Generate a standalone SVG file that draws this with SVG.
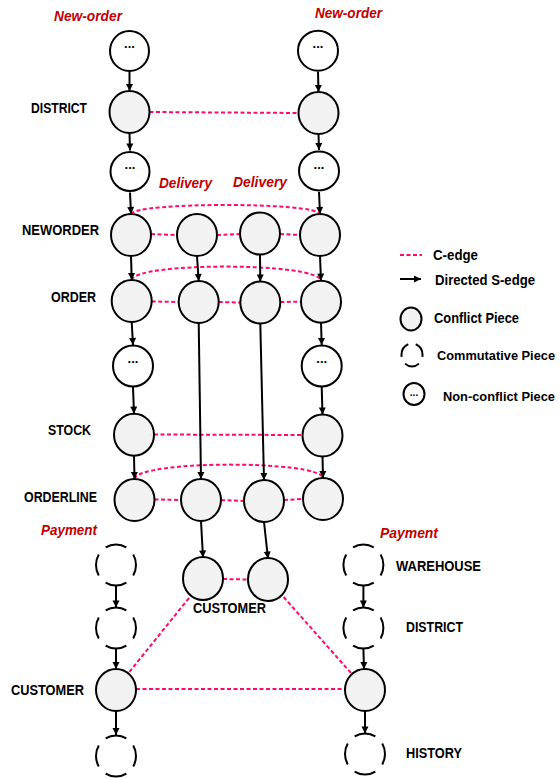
<svg xmlns="http://www.w3.org/2000/svg" width="560" height="779" viewBox="0 0 560 779">
  <style>
    .conf { fill: #f2f2f2; stroke: #000; stroke-width: 2; }
    .nonc { fill: #fff; stroke: #000; stroke-width: 2; }
    .comm { fill: none; stroke: #000; stroke-width: 2; stroke-dasharray: 62 28; stroke-dashoffset: 31; }
    .comm3 { fill: none; stroke: #000; stroke-width: 2; stroke-dasharray: 80 40; stroke-dashoffset: 70; }
    .dots { font-family: "Liberation Sans", Arial, sans-serif; font-weight: bold; font-size: 13px; text-anchor: middle; fill: #000; }
    .lbl { font-family: "Liberation Sans", Arial, sans-serif; font-weight: bold; font-size: 14px; fill: #000; dominant-baseline: central; }
    .lbl-sm { font-size: 13px; }
    .txn { font-family: "Liberation Sans", Arial, sans-serif; font-weight: bold; font-style: italic; font-size: 14px; fill: #c00000; dominant-baseline: central; }
    .cedge { fill: none; stroke: #ff0a6c; stroke-width: 2; stroke-dasharray: 4 2.5; }
    .sedge { fill: none; stroke: #000; stroke-width: 2; marker-end: url(#arrow); }
  </style>
  <defs>
    <marker id="arrow" markerUnits="userSpaceOnUse" markerWidth="10" markerHeight="10" viewBox="0 0 10 10" refX="9" refY="5" orient="auto">
      <path d="M2,1.5 L9,5 L2,8.5 Z" fill="#000"/>
    </marker>
  </defs>

  <!-- transaction labels -->
  <g id="txn-labels">
    <text class="txn" x="54" y="16" textLength="68" lengthAdjust="spacingAndGlyphs">New-order</text>
    <text class="txn" x="315" y="13" textLength="67" lengthAdjust="spacingAndGlyphs">New-order</text>
    <text class="txn" x="159" y="183" textLength="53" lengthAdjust="spacingAndGlyphs">Delivery</text>
    <text class="txn" x="233" y="182" textLength="54" lengthAdjust="spacingAndGlyphs">Delivery</text>
    <text class="txn" x="41" y="530" textLength="56" lengthAdjust="spacingAndGlyphs">Payment</text>
    <text class="txn" x="380" y="533" textLength="58" lengthAdjust="spacingAndGlyphs">Payment</text>
  </g>

  <!-- table labels -->
  <g id="table-labels">
    <text class="lbl" x="31" y="108" textLength="56" lengthAdjust="spacingAndGlyphs">DISTRICT</text>
    <text class="lbl" x="22" y="230" textLength="77" lengthAdjust="spacingAndGlyphs">NEWORDER</text>
    <text class="lbl" x="51" y="297" textLength="45" lengthAdjust="spacingAndGlyphs">ORDER</text>
    <text class="lbl" x="48" y="430" textLength="43" lengthAdjust="spacingAndGlyphs">STOCK</text>
    <text class="lbl" x="24" y="497" textLength="73" lengthAdjust="spacingAndGlyphs">ORDERLINE</text>
    <text class="lbl" x="396" y="566" textLength="85" lengthAdjust="spacingAndGlyphs">WAREHOUSE</text>
    <text class="lbl" x="193" y="608" textLength="73" lengthAdjust="spacingAndGlyphs">CUSTOMER</text>
    <text class="lbl" x="406" y="627" textLength="57" lengthAdjust="spacingAndGlyphs">DISTRICT</text>
    <text class="lbl" x="11" y="690" textLength="73" lengthAdjust="spacingAndGlyphs">CUSTOMER</text>
    <text class="lbl" x="406" y="753" textLength="56" lengthAdjust="spacingAndGlyphs">HISTORY</text>
  </g>

  <!-- connectors -->
  <g id="connectors">
    <!-- C-edges -->
    <path class="cedge" d="M149.5,112 L298.5,113"/>
    <path class="cedge" d="M131,214 C135,202 316,202 320,214"/>
    <path class="cedge" d="M151,234 L177,235"/>
    <path class="cedge" d="M217,235 L240,234"/>
    <path class="cedge" d="M280,234 L300,235"/>
    <path class="cedge" d="M131.7,280 C135,262 317,262 321,280.7"/>
    <path class="cedge" d="M151.7,301.5 L179,302"/>
    <path class="cedge" d="M218.7,302 L240.3,302.5"/>
    <path class="cedge" d="M280.3,302 L301,301.7"/>
    <path class="cedge" d="M154,434.5 L302.5,435"/>
    <path class="cedge" d="M134.5,479 C138,460 319,460 323,478"/>
    <path class="cedge" d="M154.5,499.5 L181,500"/>
    <path class="cedge" d="M221,500 L244,501"/>
    <path class="cedge" d="M284,500 L303,499"/>
    <path class="cedge" d="M223,579 L248,579.5"/>
    <path class="cedge" d="M189,598 L128.5,673"/>
    <path class="cedge" d="M283.6,597 L351,673"/>
    <path class="cedge" d="M136,689 L345,689"/>

    <!-- directed S-edges, left New-order -->
    <path class="sedge" d="M129.5,72 L129.5,91"/>
    <path class="sedge" d="M129.5,133 L130,150.5"/>
    <path class="sedge" d="M130,192.5 L131,214"/>
    <path class="sedge" d="M131,256 L131.7,280"/>
    <path class="sedge" d="M131.7,322 L133,345"/>
    <path class="sedge" d="M133,387 L134,413.7"/>
    <path class="sedge" d="M134,455.7 L134.5,479"/>
    <!-- right New-order -->
    <path class="sedge" d="M318,71.7 L318.5,92"/>
    <path class="sedge" d="M318.5,134 L319,150"/>
    <path class="sedge" d="M319,192 L320,214"/>
    <path class="sedge" d="M320,256 L321,280.7"/>
    <path class="sedge" d="M321,322.7 L321.7,345"/>
    <path class="sedge" d="M321.7,387 L322.5,414.5"/>
    <path class="sedge" d="M322.5,456.5 L323,478"/>
    <!-- Delivery -->
    <path class="sedge" d="M197,256 L198.7,281"/>
    <path class="sedge" d="M198.7,323 L201,479"/>
    <path class="sedge" d="M201,521 L203,557.5"/>
    <path class="sedge" d="M260,254.5 L260.3,281.5"/>
    <path class="sedge" d="M260.3,323.5 L264,480"/>
    <path class="sedge" d="M264,522 L268,558.5"/>
    <!-- Payment -->
    <path class="sedge" d="M116,585.5 L116,607.5"/>
    <path class="sedge" d="M116,648.5 L116,669"/>
    <path class="sedge" d="M116,711 L116,735"/>
    <path class="sedge" d="M363.4,585.5 L363.4,607.5"/>
    <path class="sedge" d="M363.4,648.5 L364,669"/>
    <path class="sedge" d="M365,711 L365,733.5"/>
  </g>

  <!-- left New-order -->
  <g id="no1-p1"><ellipse class="nonc" cx="129.5" cy="51" rx="19.5" ry="20"/><text class="dots" x="129.5" y="48">...</text></g>
  <g id="no1-district"><ellipse class="conf" cx="129.5" cy="112" rx="20" ry="21"/></g>
  <g id="no1-p2"><ellipse class="nonc" cx="130" cy="171.5" rx="19.5" ry="19.5"/><text class="dots" x="130" y="169">...</text></g>
  <g id="no1-neworder"><ellipse class="conf" cx="131" cy="235" rx="20" ry="21"/></g>
  <g id="no1-order"><ellipse class="conf" cx="131.7" cy="301" rx="20" ry="21"/></g>
  <g id="no1-p3"><ellipse class="nonc" cx="133" cy="366" rx="20" ry="20.5"/><text class="dots" x="133" y="363">...</text></g>
  <g id="no1-stock"><ellipse class="conf" cx="134" cy="434.7" rx="20" ry="21"/></g>
  <g id="no1-orderline"><ellipse class="conf" cx="134.5" cy="500" rx="20" ry="21"/></g>

  <!-- right New-order -->
  <g id="no2-p1"><ellipse class="nonc" cx="318" cy="50.7" rx="20" ry="20"/><text class="dots" x="318" y="48">...</text></g>
  <g id="no2-district"><ellipse class="conf" cx="318.5" cy="113" rx="20" ry="21"/></g>
  <g id="no2-p2"><ellipse class="nonc" cx="319" cy="171" rx="20" ry="19.5"/><text class="dots" x="319" y="169">...</text></g>
  <g id="no2-neworder"><ellipse class="conf" cx="320" cy="235" rx="20" ry="21"/></g>
  <g id="no2-order"><ellipse class="conf" cx="321" cy="301.7" rx="20" ry="21"/></g>
  <g id="no2-p3"><ellipse class="nonc" cx="321.7" cy="366" rx="20" ry="20.5"/><text class="dots" x="321.7" y="363">...</text></g>
  <g id="no2-stock"><ellipse class="conf" cx="322.5" cy="435.5" rx="20" ry="21"/></g>
  <g id="no2-orderline"><ellipse class="conf" cx="323" cy="499" rx="20" ry="21"/></g>

  <!-- Delivery transactions -->
  <g id="dl1-neworder"><ellipse class="conf" cx="197" cy="235" rx="20" ry="21"/></g>
  <g id="dl1-order"><ellipse class="conf" cx="198.7" cy="302" rx="20" ry="21"/></g>
  <g id="dl1-orderline"><ellipse class="conf" cx="201" cy="500" rx="20" ry="21"/></g>
  <g id="dl1-customer"><ellipse class="conf" cx="203" cy="578.5" rx="20" ry="21.5"/></g>
  <g id="dl2-neworder"><ellipse class="conf" cx="260" cy="233.5" rx="20" ry="21"/></g>
  <g id="dl2-order"><ellipse class="conf" cx="260.3" cy="302.5" rx="20" ry="21"/></g>
  <g id="dl2-orderline"><ellipse class="conf" cx="264" cy="501" rx="20" ry="21"/></g>
  <g id="dl2-customer"><ellipse class="conf" cx="268" cy="579.5" rx="20" ry="21.5"/></g>

  <!-- Payment transactions -->
  <g id="py1-warehouse"><ellipse class="comm" pathLength="360" cx="116" cy="565" rx="20" ry="20.5"/></g>
  <g id="py1-district"><ellipse class="comm" pathLength="360" cx="116" cy="628" rx="20" ry="20.5"/></g>
  <g id="py1-customer"><ellipse class="conf" cx="116" cy="690" rx="20" ry="21"/></g>
  <g id="py1-history"><ellipse class="comm" pathLength="360" cx="116" cy="756" rx="20" ry="20.5"/></g>
  <g id="py2-warehouse"><ellipse class="comm" pathLength="360" cx="363.4" cy="565" rx="20" ry="20.5"/></g>
  <g id="py2-district"><ellipse class="comm" pathLength="360" cx="363.4" cy="628" rx="20" ry="20.5"/></g>
  <g id="py2-customer"><ellipse class="conf" cx="365" cy="690" rx="20" ry="21"/></g>
  <g id="py2-history"><ellipse class="comm" pathLength="360" cx="365" cy="754" rx="20" ry="20.5"/></g>

  <!-- legend -->
  <g id="legend">
    <path class="cedge" d="M400,255 L422,255"/>
    <text class="lbl" x="433" y="255" textLength="45" lengthAdjust="spacingAndGlyphs">C-edge</text>
    <path class="sedge" d="M400,279 L421,279"/>
    <text class="lbl" x="435" y="280" textLength="100" lengthAdjust="spacingAndGlyphs">Directed S-edge</text>
    <ellipse class="conf" cx="411" cy="319" rx="10.5" ry="11.5"/>
    <text class="lbl" x="434" y="318" textLength="85" lengthAdjust="spacingAndGlyphs">Conflict Piece</text>
    <ellipse class="comm3" pathLength="360" cx="412" cy="355" rx="10.5" ry="11.5"/>
    <text class="lbl lbl-sm" x="437" y="355" textLength="118" lengthAdjust="spacingAndGlyphs">Commutative Piece</text>
    <ellipse class="nonc" cx="414" cy="394" rx="10.5" ry="11"/>
    <text class="dots" x="414" y="396" style="font-size:10px">...</text>
    <text class="lbl lbl-sm" x="443" y="396" textLength="112" lengthAdjust="spacingAndGlyphs">Non-conflict Piece</text>
  </g>
</svg>
